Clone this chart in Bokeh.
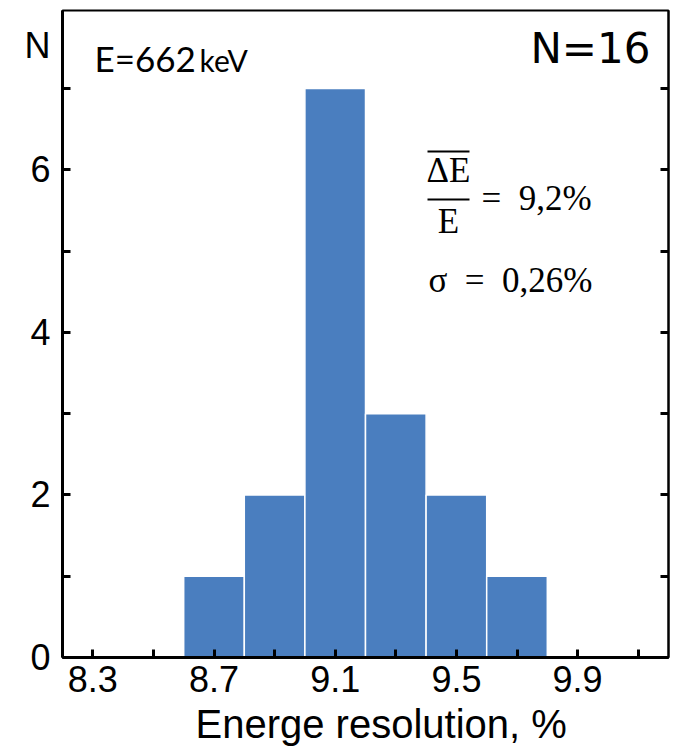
from bokeh.plotting import figure
from bokeh.models import FixedTicker, LinearAxis, Label, Range1d, Title
from bokeh.embed import file_html
from bokeh.resources import INLINE

# ---- data ----
bin_edges = [8.6, 8.8, 9.0, 9.2, 9.4, 9.6, 9.8]
counts = [1, 2, 7, 3, 2, 1]
x_major = [8.3, 8.7, 9.1, 9.5, 9.9]
x_minor = [8.5, 8.9, 9.3, 9.7, 10.1]
y_major = [0, 2, 4, 6]
y_all = [0, 1, 2, 3, 4, 5, 6, 7]
y_title_pos = 7.53
x_title = "Energe resolution, %"
y_title = "N"
energy_text = "E=662"
energy_unit = "keV"
n_text = "N=16"
mean_num = "ΔE"
mean_den = "E"
mean_value = "=\u20029,2%"
sigma_text = "σ\u2002=\u20020,26%"

# ---- layout ----
W, H = 674, 750
FL, FT, FW, FH = 62, 10, 606, 647
X0, X1 = 8.2, 10.2
Y0, Y1 = 0.0, 7.96


def dx(px):
    return X0 + (px - FL) / FW * (X1 - X0)


def dy(py):
    return Y0 + (FT + FH - py) / FH * (Y1 - Y0)


p = figure(width=W, height=H, output_backend="svg", toolbar_location=None,
           x_range=Range1d(X0, X1), y_range=Range1d(Y0, Y1),
           x_axis_type=None, y_axis_type=None,
           min_border_left=FL, min_border_right=W - FL - FW,
           min_border_top=FT, min_border_bottom=H - FT - FH)
p.xgrid.visible = False
p.ygrid.visible = False
p.outline_line_color = "black"
p.outline_line_width = 2
p.background_fill_color = "white"
p.border_fill_color = "white"

p.quad(left=bin_edges[:-1], right=bin_edges[1:], bottom=0, top=counts,
       fill_color="#4A7EBF", line_color="white", line_width=1.5)


def style_axis(ax, standoff=10):
    ax.axis_line_color = "black"
    ax.axis_line_width = 3
    ax.major_tick_in = 8
    ax.major_tick_out = 0
    ax.minor_tick_in = 8
    ax.minor_tick_out = 0
    ax.major_tick_line_width = 3
    ax.minor_tick_line_width = 3
    ax.major_tick_line_color = "black"
    ax.minor_tick_line_color = "black"
    ax.major_label_text_font = "Liberation Sans"
    ax.major_label_text_color = "black"
    ax.major_label_standoff = standoff
    ax.major_label_text_font_size = "36px"


xa = LinearAxis(ticker=FixedTicker(ticks=x_major, minor_ticks=x_minor))
style_axis(xa, standoff=8)
p.add_layout(xa, "below")

# left axis: tick marks drawn as minor ticks; major ticks only carry labels
ya = LinearAxis(ticker=FixedTicker(ticks=y_major + [y_title_pos], minor_ticks=y_all))
style_axis(ya, standoff=12)
ya.major_tick_line_alpha = 0
ya.major_label_overrides = {y_title_pos: y_title}
p.add_layout(ya, "left")

yr = LinearAxis(ticker=FixedTicker(ticks=[], minor_ticks=y_all))
style_axis(yr)
yr.axis_line_width = 2
yr.major_label_standoff = 0
p.add_layout(yr, "right")

xt = Title(text=x_title, align="left", offset=133, text_font="Liberation Sans",
           text_font_size="40px", text_font_style="normal", text_color="black",
           standoff=10)
p.add_layout(xt, "below")

# fraction bars for the formula
p.segment(x0=[dx(427), dx(427)], y0=[dy(151), dy(199)],
          x1=[dx(469), dx(469)], y1=[dy(151), dy(199)],
          line_color="black", line_width=2)


def lab(text, px, py, font, size, align="left", baseline="middle"):
    p.add_layout(Label(x=dx(px), y=dy(py), text=text, text_font=font,
                       text_font_size=size, text_align=align,
                       text_baseline=baseline, text_color="black"))


lab(energy_text, 94, 57, "Lato", "35px")
lab(energy_unit, 199, 59, "Lato", "30px")
lab(n_text, 650, 48, "DejaVu Sans", "42px", align="right")
lab(mean_num, 448, 170, "Liberation Serif", "35px", align="center")
lab(mean_den, 448, 221, "Liberation Serif", "35px", align="center")
lab(mean_value, 481, 198, "Liberation Serif", "35px")
lab(sigma_text, 428, 280, "Liberation Serif", "35px")

open("out.html", "w").write(file_html(p, INLINE))
